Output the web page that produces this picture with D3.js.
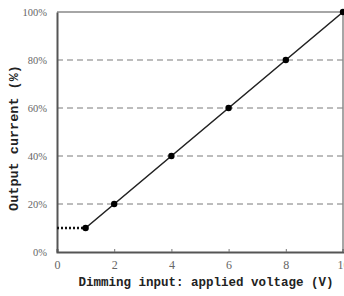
<!DOCTYPE html>
<html lang="en">
<head>
  <meta charset="UTF-8">
  <title>Dimming curve</title>
  <script src="https://d3js.org/d3.v7.min.js"></script>
  <style>
    body { margin: 0; background: #fff; }
    text { font-family: "Liberation Mono", "DejaVu Sans Mono", monospace; }
  </style>
</head>
<body>
  <svg id="chart" width="344" height="296"></svg>

  <script>
    // Data
    const voltage = [1, 2, 4, 6, 8, 10];
    const current = [10, 20, 40, 60, 80, 100];
    const floorLine = [[0, 10], [1, 10]];
    const xTicks = [0, 2, 4, 6, 8, 10];
    const yTicks = [0, 20, 40, 60, 80, 100];
    const gridValues = [20, 40, 60, 80];

    const svg = d3.select("#chart");
    const plotLeft = 57, plotRight = 343, plotTop = 12, plotBottom = 252;

    const x = d3.scaleLinear().domain([0, 10]).range([plotLeft, plotRight]);
    const y = d3.scaleLinear().domain([0, 100]).range([plotBottom, plotTop]);

    // dashed gridlines
    svg.selectAll(".grid")
      .data(gridValues)
      .enter()
      .append("line")
      .attr("x1", plotLeft)
      .attr("x2", plotRight)
      .attr("y1", d => y(d))
      .attr("y2", d => y(d))
      .attr("stroke", "#7a7a7a")
      .attr("stroke-width", 1)
      .attr("stroke-dasharray", "6,4");

    // frame
    svg.append("line").attr("x1", plotLeft).attr("x2", plotRight).attr("y1", plotTop).attr("y2", plotTop)
      .attr("stroke", "#888").attr("stroke-width", 1.5);
    svg.append("line").attr("x1", plotRight).attr("x2", plotRight).attr("y1", plotTop).attr("y2", plotBottom)
      .attr("stroke", "#888").attr("stroke-width", 1.5);

    // axes
    const xAxis = d3.axisBottom(x).tickValues(xTicks).tickSize(-3).tickPadding(8).tickFormat(d3.format("d"));
    const gx = svg.append("g").attr("transform", `translate(0,${plotBottom})`).call(xAxis);
    gx.select(".domain").attr("stroke", "#555").attr("stroke-width", 2);
    gx.selectAll(".tick line").attr("stroke", "#777");
    gx.selectAll(".tick text").attr("fill", "#666").style("font-size", "12px")
      .style("font-family", "'Liberation Serif', serif");

    const yAxis = d3.axisLeft(y).tickValues(yTicks).tickSize(0).tickPadding(10).tickFormat(d => d + "%");
    const gy = svg.append("g").attr("transform", `translate(${plotLeft},0)`).call(yAxis);
    gy.select(".domain").attr("stroke", "#555").attr("stroke-width", 2);
    gy.selectAll(".tick text").attr("fill", "#666").style("font-size", "10.5px")
      .style("font-family", "'Liberation Serif', serif");

    // dotted floor segment
    svg.append("path")
      .datum(floorLine)
      .attr("fill", "none")
      .attr("stroke", "#111")
      .attr("stroke-width", 2.5)
      .attr("stroke-dasharray", "2,2")
      .attr("d", d3.line().x(d => x(d[0])).y(d => y(d[1])));

    // main line
    const pts = voltage.map((v, i) => [v, current[i]]);
    svg.append("path")
      .datum(pts)
      .attr("fill", "none")
      .attr("stroke", "#222")
      .attr("stroke-width", 1.6)
      .attr("d", d3.line().x(d => x(d[0])).y(d => y(d[1])));

    svg.selectAll(".pt")
      .data(pts)
      .enter()
      .append("circle")
      .attr("cx", d => x(d[0]))
      .attr("cy", d => y(d[1]))
      .attr("r", 3.2)
      .attr("fill", "#000");

    // axis titles
    svg.append("text")
      .attr("x", 206)
      .attr("y", 286)
      .attr("text-anchor", "middle")
      .style("font-size", "12.5px")
      .style("font-weight", "bold")
      .attr("fill", "#222")
      .text("Dimming input: applied voltage (V)");

    svg.append("text")
      .attr("transform", "translate(18,138) rotate(-90)")
      .attr("text-anchor", "middle")
      .style("font-size", "13.5px")
      .style("font-weight", "bold")
      .attr("fill", "#222")
      .text("Output current (%)");
  </script>
</body>
</html>
